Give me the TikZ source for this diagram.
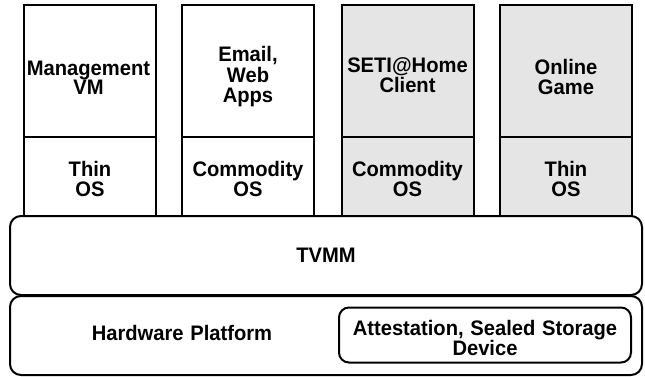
\documentclass[tikz,border=0pt]{standalone}
\usepackage{fontspec}
\setmainfont{Liberation Sans}[FakeStretch=0.96,WordSpace=1.2]
\begin{document}
\begin{tikzpicture}[x=1pt,y=-1pt,
  txt/.style={inner sep=0pt,align=center,font=\bfseries\fontsize{21}{20}\selectfont},
  box/.style={draw=black,line width=2pt,minimum width=132pt,inner sep=0pt},
  app/.style={box,minimum height=132pt},
  os/.style={box,minimum height=79pt},
  grey/.style={fill=black!10},
  layer/.style={draw=black,line width=2pt,rounded corners=11pt,minimum width=632pt,minimum height=79pt,inner sep=0pt},
  dev/.style={draw=black,line width=2pt,rounded corners=10pt,minimum width=292pt,minimum height=55pt,inner sep=0pt}]
\useasboundingbox (0,0) rectangle (645,377);
\node[app] (a1) at (90,71) {};
\node[app] (a2) at (248,71) {};
\node[app,grey] (a3) at (407.5,71) {};
\node[app,grey] (a4) at (566,71) {};
\node[os] (o1) at (90,176.5) {};
\node[os] (o2) at (248,176.5) {};
\node[os,grey] (o3) at (407.5,176.5) {};
\node[os,grey] (o4) at (566,176.5) {};
\node[txt,font=\bfseries\fontsize{21}{19}\selectfont] (t1) at (88.5,78) {Management\\VM};
\node[txt,font=\bfseries\fontsize{21}{20.5}\selectfont] (t2) at (248,77) {Email,\\Web\\Apps};
\node[txt] (t3) at (407.5,74.7) {SETI@Home\\Client};
\node[txt] (t4) at (566,76.7) {Online\\Game};
\node[txt] (u1) at (90,178.8) {Thin\\OS};
\node[txt] (u2) at (248,178.8) {Commodity\\OS};
\node[txt] (u3) at (407.5,178.8) {Commodity\\OS};
\node[txt] (u4) at (566,178.8) {Thin\\OS};
\node[layer,fill=white] (tvmm) at (326,255.5) {};
\node[txt] (tvmmt) at (326,255) {TVMM};
\node[layer] (hw) at (326,335.5) {};
\node[txt] (hwt) at (182,333) {Hardware Platform};
\node[dev] (dev) at (485,335) {};
\node[txt] (devt) at (485,337.8) {Attestation, Sealed Storage\\Device};
\end{tikzpicture}
\end{document}
